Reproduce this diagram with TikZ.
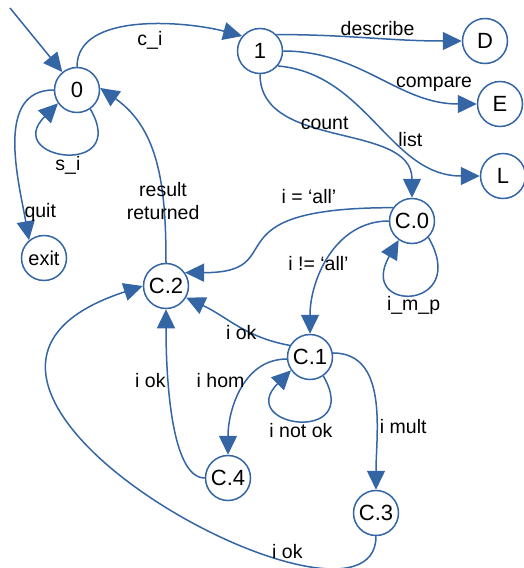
\documentclass[tikz,border=0pt]{standalone}
\usepackage{fontspec}
\setmainfont{Liberation Sans}
\usetikzlibrary{arrows.meta}
\definecolor{bleu}{RGB}{52,101,164}

\begin{document}
\begin{tikzpicture}[x=1pt,y=1pt]
% Styles
 \tikzstyle{etat}=[circle,draw=bleu,line width=1.5pt,minimum size=45pt,inner sep=0pt,font=\fontsize{22}{24}\selectfont]
 \tikzstyle{transition}=[color=bleu,line width=1.5pt,-{Triangle[length=19pt,width=18pt]}]
 \tikzstyle{etiquette}=[text=black,font=\fontsize{19.5}{23}\selectfont,inner sep=2pt]
 \tikzstyle{boucle}=[out=-60,in=-135,distance=80pt]
 \useasboundingbox (0,0) rectangle (523,-568);
% Etats
 \node[etat] (e0) at (77,-90) {0};
 \node[etat] (e1) at (260,-51) {1};
 \node[etat] (eD) at (485,-41) {D};
 \node[etat] (eE) at (500,-104) {E};
 \node[etat] (eL) at (503,-176) {L};
 \node[etat,font=\fontsize{20}{22}\selectfont] (sortie) at (44,-258) {exit};
 \node[etat] (c0) at (412,-221) {C.0};
 \node[etat] (c2) at (166,-286) {C.2};
 \node[etat] (c1) at (310,-357) {C.1};
 \node[etat] (c4) at (228,-478) {C.4};
 \node[etat] (c3) at (376,-513) {C.3};
 \coordinate (debut) at (10,-8);
% Transitions
 \draw[transition] (debut) -- (e0);
 \draw[transition] (e0.north) to[out=90,in=165,looseness=0.85]
      node[etiquette,below=4pt,pos=0.55] {c\_i} (e1.140);
 \draw[transition] (e0.-55) to[boucle]
      node[etiquette,below] {s\_i} (e0.-145);
 \draw[transition] (e0.west) to[out=180,in=100]
      node[etiquette,right=-2pt,pos=0.85] {quit} (sortie.130);
 \draw[transition] (c2.north) to[out=90,in=-35]
      node[etiquette,pos=0.3,align=center] {result\\returned} (e0.5);
 \draw[transition] (e1.45) to[out=0,in=180]
      node[etiquette,above,pos=0.55] {describe} (eD);
 \draw[transition] (e1.east) to[out=0,in=180]
      node[etiquette,above=4pt,pos=0.8] {compare} (eE);
 \draw[transition] (e1.-40) to[out=-5,in=180]
      node[etiquette,right,pos=0.6] {list} (eL);
 \draw[transition] (e1.south) to[out=-90,in=90]
      node[etiquette,above,pos=0.45] {count} (c0.north);
 \draw[transition] (c0.145) to[out=180,in=0,out distance=190pt,in distance=110pt]
      node[etiquette,above=8pt,pos=0.2] {i = ‘all’} (c2.35);
 \draw[transition] (c0.west) to[out=180,in=90]
      node[etiquette,pos=0.55,xshift=-7pt] {i != ‘all’} (c1.north);
 \draw[transition] (c0.-45) to[boucle,in=-120,distance=85pt]
      node[etiquette,below=0pt] {i\_m\_p} (c0.-125);
 \draw[transition] (c1.150) to[out=170,in=-25]
      node[etiquette,below=-6pt,pos=0.45] {i ok} (c2.-30);
 \draw[transition] (c1.185) to[out=180,in=90]
      node[etiquette,left,pos=0.4] {i hom} (c4.north);
 \draw[transition] (c1.-55) to[boucle]
      node[etiquette,below=0pt] {i not ok} (c1.-145);
 \draw[transition] (c1.10) to[out=0,in=90]
      node[etiquette,right,pos=0.65] {i mult} (c3.north);
 \draw[transition] (c4.west) to[out=180,in=-90,out looseness=0.5]
      node[etiquette,left,pos=0.68] {i ok} (c2.south);
 \draw[transition] (c3.south) to[out=-90,in=198,out distance=128pt,in distance=308pt]
      node[etiquette,above,pos=0.27] {i ok} (c2.west);
\end{tikzpicture}
\end{document}
